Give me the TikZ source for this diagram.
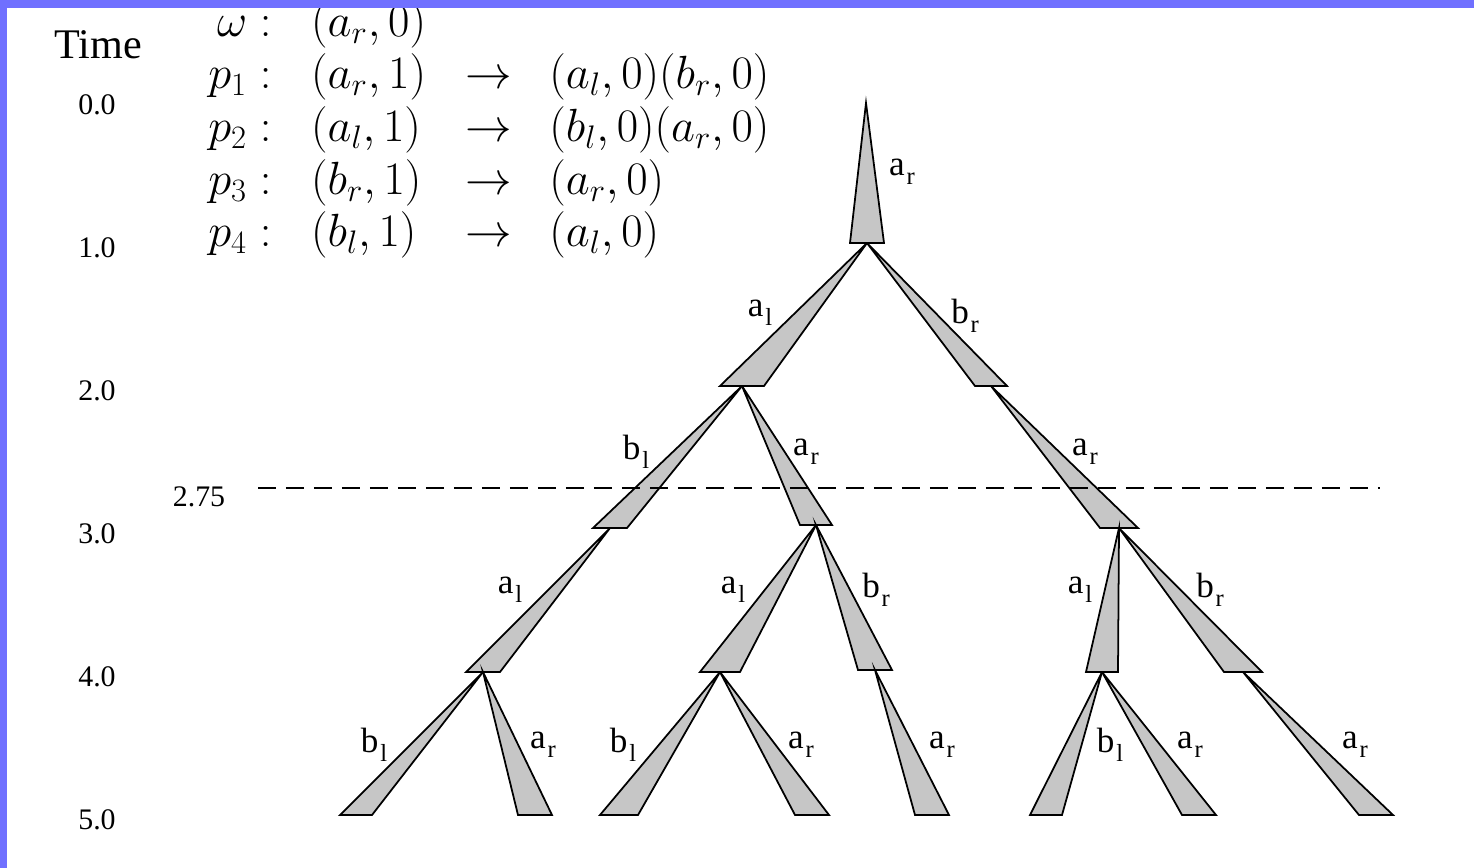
\RequirePackage{fix-cm}
\documentclass[tikz,border=0pt]{standalone}
\usepackage{amsmath,amssymb}
\usepackage[no-math]{fontspec}
\setmainfont{Liberation Serif}
\usepackage{tikz}
\usetikzlibrary{calc, positioning}
\definecolor{frameblue}{RGB}{112,112,255}
\tikzset{
    branch/.style={draw=black, fill=gray!45, line width=1pt},
    brlabel/.style={inner sep=0pt, font=\fontsize{20}{20}\selectfont},
    timelab/.style={inner sep=0pt, font=\fontsize{17}{17}\selectfont},
    cutline/.style={line width=1.1pt, dash pattern=on 0.36cm off 0.2cm}
}
\newcommand{\brl}[2]{#1\kern1pt\raisebox{-5pt}{\fontsize{14}{14}\selectfont #2}}
\newcommand{\wedgebr}[3][17]{\draw[branch] (#2) -- ($(#3)+(-#1,0)$) -- ($(#3)+(#1,0)$) -- cycle;}

\begin{document}
\begin{tikzpicture}[x=0.02cm, y=-0.02cm]
        \useasboundingbox (0,0) rectangle (1474,868);
        
        % Time axis
        \node[inner sep=0pt, font=\fontsize{24}{24}\selectfont] (time) at (98,45) {Time};
        \foreach \t in {0,...,5} {
            \node[timelab] (t\t) at (97, {105+143*\t}) {\t.0};
        }
        \node[timelab] (tcut) at (199,497) {2.75};
        
        % Rules
        \node[anchor=west, inner sep=0pt, font=\fontsize{26.5}{30}\selectfont] (rules) at (208,131) {$\begin{array}{@{}r@{\hspace{0.85em}}l@{\hspace{0.85em}}c@{\hspace{0.8em}}l@{}}
            \omega : & (a_r,0) & & \\
            p_1 : & (a_r,1) & \rightarrow & (a_l,0)(b_r,0)\\
            p_2 : & (a_l,1) & \rightarrow & (b_l,0)(a_r,0)\\
            p_3 : & (b_r,1) & \rightarrow & (a_r,0)\\
            p_4 : & (b_l,1) & \rightarrow & (a_l,0)
        \end{array}$};
        
        % Tree points
        \coordinate (r0) at (866,103);
        \coordinate (n1) at (867,243);
        \coordinate (n2) at (742,386);
        \coordinate (n3) at (991,386);
        \coordinate (n4) at (610,528);
        \coordinate (n5) at (816,525);
        \coordinate (n6) at (1119,528);
        \coordinate (n7) at (483,672);
        \coordinate (n8) at (720,672);
        \coordinate (n9) at (875,670);
        \coordinate (n10) at (1102,672);
        \coordinate (n11) at (1243,672);
        \foreach \i/\x in {1/356, 2/535, 3/619, 4/812, 5/932, 6/1046, 7/1199, 8/1376} {
            \coordinate (l\i) at (\x,815);
        }
        
        % Branches
        \wedgebr{r0}{n1}
        \wedgebr[22]{n1}{n2}
        \wedgebr[16]{n1}{n3}
        \wedgebr{n2}{n4}
        \wedgebr[16]{n2}{n5}
        \wedgebr[19]{n3}{n6}
        \wedgebr{n4}{n7}
        \wedgebr[20]{n5}{n8}
        \wedgebr{n5}{n9}
        \wedgebr[16]{n6}{n10}
        \wedgebr[19]{n6}{n11}
        \wedgebr[16]{n7}{l1}
        \wedgebr{n7}{l2}
        \wedgebr[19]{n8}{l3}
        \wedgebr{n8}{l4}
        \wedgebr{n9}{l5}
        \wedgebr[16]{n10}{l6}
        \wedgebr{n10}{l7}
        \wedgebr{n11}{l8}
        
        % Branch labels
        \node[brlabel] (b1) at (902,172) {\brl{a}{r}};
        \node[brlabel] (b2) at (760,313) {\brl{a}{l}};
        \node[brlabel] (b3) at (965,316) {\brl{b}{r}};
        \node[brlabel] (b4) at (636,452) {\brl{b}{l}};
        \node[brlabel] (b5) at (806,452) {\brl{a}{r}};
        \node[brlabel] (b6) at (1085,452) {\brl{a}{r}};
        \node[brlabel] (b7) at (510,590) {\brl{a}{l}};
        \node[brlabel] (b8) at (733,590) {\brl{a}{l}};
        \node[brlabel] (b9) at (876,590) {\brl{b}{r}};
        \node[brlabel] (b10) at (1080,590) {\brl{a}{l}};
        \node[brlabel] (b11) at (1210,590) {\brl{b}{r}};
        \node[brlabel] (b12) at (374,745) {\brl{b}{l}};
        \node[brlabel] (b13) at (543,745) {\brl{a}{r}};
        \node[brlabel] (b14) at (623,745) {\brl{b}{l}};
        \node[brlabel] (b15) at (801,745) {\brl{a}{r}};
        \node[brlabel] (b16) at (942,745) {\brl{a}{r}};
        \node[brlabel] (b17) at (1110,745) {\brl{b}{l}};
        \node[brlabel] (b18) at (1190,745) {\brl{a}{r}};
        \node[brlabel] (b19) at (1355,745) {\brl{a}{r}};
        
        % Cut at 2.75
        \coordinate (cutL) at (258,488);
        \coordinate (cutR) at (1380,488);
        \draw[cutline] (cutL) -- (cutR);
        
        % Frame
        \fill[frameblue] (0,0) rectangle (1474,8);
        \fill[frameblue] (0,0) rectangle (7,868);
    \end{tikzpicture}
\end{document}
